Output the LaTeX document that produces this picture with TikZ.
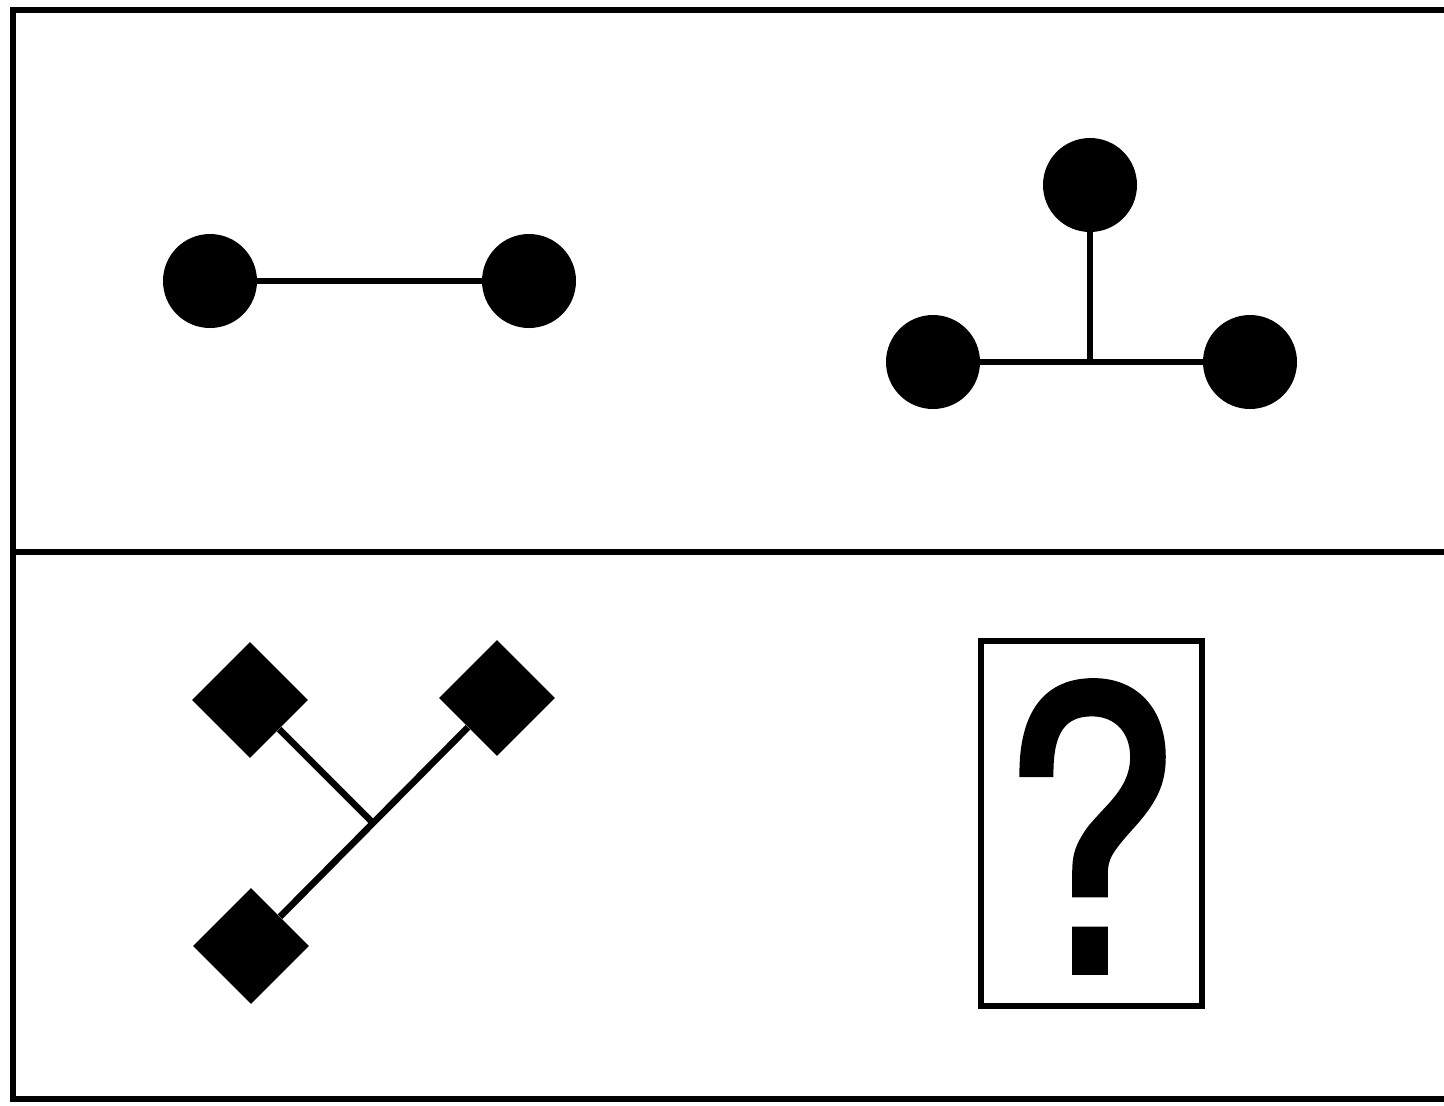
\documentclass[tikz,border=0pt]{standalone}
\usepackage{fontspec}
\setmainfont{TeX Gyre Heros}
\newfontfamily\qfont{TeX Gyre Heros}[FakeBold=2]
\usetikzlibrary{shapes.geometric}
\begin{document}
\begin{tikzpicture}[x=0.5pt,y=-0.5pt,
  dot/.style={circle,fill=black,inner sep=0pt,minimum size=47pt},
  dia/.style={diamond,aspect=1,fill=black,inner sep=0pt,minimum width=58pt,minimum height=58pt},
  link/.style={line width=3.3pt},
  frame/.style={line width=3pt},
  qbox/.style={draw,line width=3.2pt,inner sep=0pt,minimum width=110.5pt,minimum height=182.5pt},
  qmark/.style={inner sep=0pt,anchor=base,xscale=0.83,font=\qfont\fontsize{195pt}{195pt}\selectfont}]
\useasboundingbox (0,0) rectangle (1444,1105);
% frame (open on the right)
\draw[frame] (1444,10) -- (13,10) -- (13,1099) -- (1444,1099);
\draw[frame] (13,552) -- (1444,552);
% panel 1
\node[dot] (a1) at (210,281) {};
\node[dot] (a2) at (529,281) {};
\draw[link] (a1) -- (a2);
% panel 2
\node[dot] (b1) at (1090,185) {};
\node[dot] (b2) at (933,362) {};
\node[dot] (b3) at (1250,362) {};
\coordinate (bj) at (1090,361);
\draw[link] (b2) -- (b3);
\draw[link] (b1) -- (bj);
% panel 3
\node[dia] (d1) at (250,700) {};
\node[dia] (d2) at (497,698) {};
\node[dia] (d3) at (251,946) {};
\coordinate (dj) at (373,823);
\draw[link] (d3) -- (d2);
\draw[link] (d1) -- (dj);
% panel 4
\node[qbox] (qb) at (1091.5,823.5) {};
\node[qmark] (q) at (1090,971) {?};
\end{tikzpicture}
\end{document}
